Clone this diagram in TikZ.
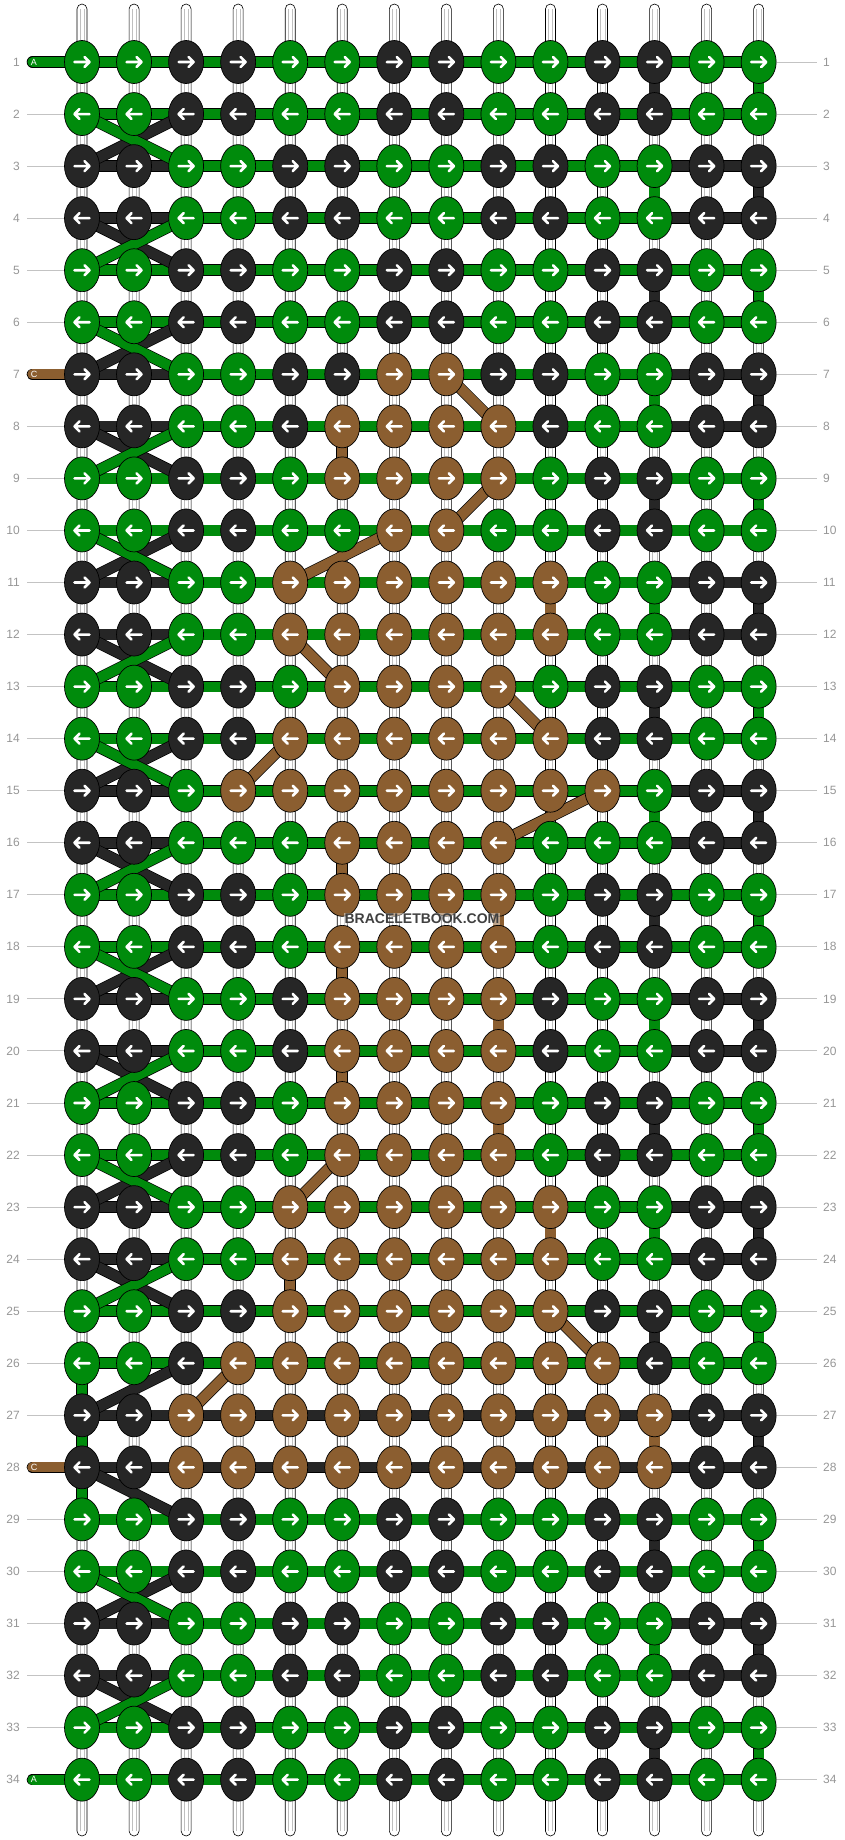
\documentclass[tikz,border=0pt]{standalone}
\usepackage{fontspec}
\setmainfont{Liberation Sans}
\usetikzlibrary{arrows.meta,%
                shapes,positioning}

\definecolor{thG}{RGB}{0,139,12}
\definecolor{thK}{RGB}{38,38,38}
\definecolor{thB}{RGB}{139,94,48}
\definecolor{numgray}{RGB}{150,150,150}
\definecolor{tickgray}{RGB}{195,195,195}

\pgfdeclarelayer{tubes}
\pgfdeclarelayer{threads}
\pgfsetlayers{tubes,threads,main}

\tikzset{
  knot/.style={ellipse, draw=black, line width=0.7pt, minimum width=35pt,
    minimum height=43pt, inner sep=0pt},
  arw/.style={white, line width=2.6pt, line cap=round, line join=round},
  toright/.style={path picture={\draw[arw]
      ([xshift=-7.5pt]path picture bounding box.center) -- ++(15pt,0pt)
      ++(-5pt,5pt) -- ++(5pt,-5pt) -- ++(-5pt,-5pt);}},
  toleft/.style={path picture={\draw[arw]
      ([xshift=7.5pt]path picture bounding box.center) -- ++(-15pt,0pt)
      ++(5pt,5pt) -- ++(-5pt,-5pt) -- ++(5pt,-5pt);}},
  arrowdir/.code={\ifodd#1\relax\tikzset{toright}\else\tikzset{toleft}\fi},
  thread/.style={draw=black, line width=0.7pt, double=#1, double distance=10.2pt},
  rownum/.style={font=\fontsize{12}{12}\selectfont, text=numgray, inner sep=0pt},
  tick/.style={tickgray, line width=1pt},
  tag/.style={font=\fontsize{9}{9}\selectfont, text=white, inner sep=0pt},
  tube/.style={draw=black, line width=0.6pt, fill=white, rounded corners=5pt},
  tubeline/.style={black!25, line width=0.4pt},
  wmark/.style={font=\bfseries\fontsize{14}{14}\selectfont, text=black!75,
    fill=white, fill opacity=0.45, text opacity=1, inner sep=1pt},
}

\begin{document}
\begin{tikzpicture}[x=1pt,y=-1pt]
\useasboundingbox (0,0) rectangle (844,1840);

% knots, row by row
\foreach \pat [count=\r] in {
  {G,G,K,K,G,G,K,K,G,G,K,K,G,G},% 1
  {G,G,K,K,G,G,K,K,G,G,K,K,G,G},
  {K,K,G,G,K,K,G,G,K,K,G,G,K,K},
  {K,K,G,G,K,K,G,G,K,K,G,G,K,K},
  {G,G,K,K,G,G,K,K,G,G,K,K,G,G},% 5
  {G,G,K,K,G,G,K,K,G,G,K,K,G,G},
  {K,K,G,G,K,K,B,B,K,K,G,G,K,K},
  {K,K,G,G,K,B,B,B,B,K,G,G,K,K},
  {G,G,K,K,G,B,B,B,B,G,K,K,G,G},
  {G,G,K,K,G,G,B,B,G,G,K,K,G,G},% 10
  {K,K,G,G,B,B,B,B,B,B,G,G,K,K},
  {K,K,G,G,B,B,B,B,B,B,G,G,K,K},
  {G,G,K,K,G,B,B,B,B,G,K,K,G,G},
  {G,G,K,K,B,B,B,B,B,B,K,K,G,G},
  {K,K,G,B,B,B,B,B,B,B,B,G,K,K},% 15
  {K,K,G,G,G,B,B,B,B,G,G,G,K,K},
  {G,G,K,K,G,B,B,B,B,G,K,K,G,G},
  {G,G,K,K,G,B,B,B,B,G,K,K,G,G},
  {K,K,G,G,K,B,B,B,B,K,G,G,K,K},
  {K,K,G,G,K,B,B,B,B,K,G,G,K,K},% 20
  {G,G,K,K,G,B,B,B,B,G,K,K,G,G},
  {G,G,K,K,G,B,B,B,B,G,K,K,G,G},
  {K,K,G,G,B,B,B,B,B,B,G,G,K,K},
  {K,K,G,G,B,B,B,B,B,B,G,G,K,K},
  {G,G,K,K,B,B,B,B,B,B,K,K,G,G},% 25
  {G,G,K,B,B,B,B,B,B,B,B,K,G,G},
  {K,K,B,B,B,B,B,B,B,B,B,B,K,K},
  {K,K,B,B,B,B,B,B,B,B,B,B,K,K},
  {G,G,K,K,G,G,K,K,G,G,K,K,G,G},
  {G,G,K,K,G,G,K,K,G,G,K,K,G,G},% 30
  {K,K,G,G,K,K,G,G,K,K,G,G,K,K},
  {K,K,G,G,K,K,G,G,K,K,G,G,K,K},
  {G,G,K,K,G,G,K,K,G,G,K,K,G,G},
  {G,G,K,K,G,G,K,K,G,G,K,K,G,G}}{
  \foreach \col [count=\c] in \pat
    \node[knot, fill=th\col, arrowdir=\r] (k-\r-\c)
      at ({82+52.05*(\c-1)},{62+52.05*(\r-1)}) {};
}

% row numbers
\foreach \r in {1,...,34}{
  \node[rownum, anchor=east] (nl-\r) at (20,{62+52.05*(\r-1)}) {\r};
  \node[rownum, anchor=west] (nr-\r) at (823,{62+52.05*(\r-1)}) {\r};
}

\begin{pgfonlayer}{tubes}
\foreach \c in {1,...,14}{
  \draw[tube] ({82+52.05*(\c-1)-5},4) rectangle ({82+52.05*(\c-1)+5},1836);
  \draw[tubeline] ({82+52.05*(\c-1)-2.2},9) -- ({82+52.05*(\c-1)-2.2},1831);
  \draw[tubeline] ({82+52.05*(\c-1)+2.2},9) -- ({82+52.05*(\c-1)+2.2},1831);
}
\foreach \r in {1,...,34}{
  \draw[tick] ([xshift=7pt]nl-\r.east) -- (k-\r-1);
  \draw[tick] (k-\r-14) -- ([xshift=-6pt]nr-\r.west);
}
\end{pgfonlayer}

\begin{pgfonlayer}{threads}
% horizontal threads
\foreach \r in {1,...,34}{
  \foreach \c/\cn in {1/2,2/3,3/4,4/5,5/6,6/7,7/8,8/9,9/10,10/11,11/12,12/13,13/14}{
    \draw[thread=thG] (k-\r-\c.center) -- (k-\r-\cn.center);
  }
}
\foreach \r in {3,4,7,8,11,12,15,16,19,20,23,24,31,32}{
  \foreach \c/\cn in {1/2,2/3,12/13,13/14}{
    \draw[thread=thK] (k-\r-\c.center) -- (k-\r-\cn.center);
  }
}
\foreach \r in {27,28}{
  \foreach \c/\cn in {1/2,2/3,3/4,4/5,5/6,6/7,7/8,8/9,9/10,10/11,11/12,12/13,13/14}{
    \draw[thread=thK] (k-\r-\c.center) -- (k-\r-\cn.center);
  }
}

% vertical pieces
\foreach \r/\c/\cl [evaluate=\r as \rn using int(\r+1)] in
  {1/12/K,1/14/G,3/12/G,3/14/K,5/12/K,5/14/G,7/12/G,7/14/K,
   9/12/K,9/14/G,11/12/G,11/14/K,13/12/K,13/14/G,15/12/G,15/14/K,
   17/12/K,17/14/G,19/12/G,19/14/K,21/12/K,21/14/G,23/12/G,23/14/K,
   25/12/K,25/14/G,27/12/B,27/14/K,29/12/K,29/14/G,31/12/G,31/14/K,
   33/12/K,33/14/G,
   8/6/B,11/10/B,16/6/B,17/9/B,18/6/B,19/9/B,20/6/B,21/9/B,
   23/10/B,24/5/B,26/1/G,27/1/G,28/1/G}
  \draw[thread=th\cl] (k-\r-\c.center) -- (k-\rn-\c.center);

% crossings on the left edge
\foreach \r [evaluate=\r as \rn using int(\r+1)] in {2,6,10,14,18,22,30}{
  \draw[thread=thK] (k-\rn-1.center) -- (k-\r-3.center);
  \draw[thread=thG] (k-\r-1.center) -- (k-\rn-3.center);
}
\foreach \r [evaluate=\r as \rn using int(\r+1)] in {4,8,12,16,20,24,32}{
  \draw[thread=thK] (k-\r-1.center) -- (k-\rn-3.center);
  \draw[thread=thG] (k-\rn-1.center) -- (k-\r-3.center);
}
\draw[thread=thK] (k-27-1.center) -- (k-26-3.center);
\draw[thread=thK] (k-28-1.center) -- (k-29-3.center);

% brown diagonals
\foreach \ra/\ca/\rb/\cb in {7/8/8/9,9/9/10/8,10/7/11/5,12/5/13/6,13/9/14/10,
    14/5/15/4,15/11/16/9,22/6/23/5,25/10/26/11,26/4/27/3}
  \draw[thread=thB] (k-\ra-\ca.center) -- (k-\rb-\cb.center);
\end{pgfonlayer}

% string ends
\foreach \r/\t/\cl in {1/A/G,7/C/B,28/C/B,34/A/G}{
  \node[tag] (tag-\r) at (34,{62+52.05*(\r-1)}) {\t};
  \begin{pgfonlayer}{threads}
    \draw[thread=th\cl, line cap=round] ([xshift=-1.5pt]tag-\r.center) -- (k-\r-1.center);
  \end{pgfonlayer}
}

\node[wmark] (wm) at (422,919) {BRACELETBOOK.COM};

\end{tikzpicture}
\end{document}
